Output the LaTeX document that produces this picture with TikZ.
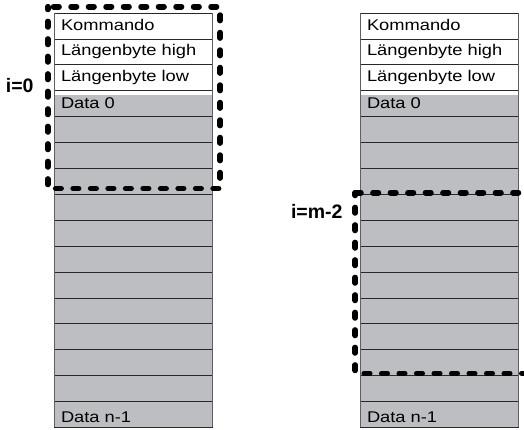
\documentclass[tikz,border=0pt]{standalone}
\usepackage{fontspec}
\setmainfont[FakeStretch=1.18]{Liberation Sans}
\newfontfamily\lblfont{Liberation Sans}
\definecolor{cellgray}{RGB}{189,190,193}
\definecolor{rowline}{RGB}{40,40,40}
\definecolor{sideline}{RGB}{95,95,98}
\begin{document}
\begin{tikzpicture}[x=1pt,y=-1pt,
  cell/.style={draw=rowline, line width=0.8pt, minimum width=158.5pt,
    minimum height=25.9pt, inner sep=0pt, outer sep=0pt},
  celltext/.style={anchor=base west, inner sep=0pt, outer sep=0pt,
    font=\fontsize{15.5}{18}\selectfont, text=black},
  idxlabel/.style={anchor=base east, inner sep=0pt, outer sep=0pt,
    font=\fontsize{19.5}{22}\lblfont\bfseries},
  selbox/.style={line width=5.6pt, line cap=round, line join=round,
    dash pattern=on 5.5pt off 12pt, dash phase=2.75pt}]
\useasboundingbox (0,0) rectangle (524,429);

% two memory columns of 16 byte cells each
\foreach \c/\x in {L/54, R/360} {
  \fill[cellgray] (\x,95) rectangle (\x+158.5,427.2);
  \foreach \r in {0,...,15} {
    \node[cell] (\c\r) at (\x+79.25, 13+25.9*\r+12.95) {};
  }
  \draw[sideline, line width=0.9pt] (\c0.north west) -- (\c15.south west);
  \draw[sideline, line width=0.9pt] (\c0.north east) -- (\c15.south east);
  \node[celltext] (\c t0) at ([shift={(7,17)}]\c0.north west) {Kommando};
  \node[celltext] (\c t1) at ([shift={(7,17)}]\c1.north west) {Längenbyte high};
  \node[celltext] (\c t2) at ([shift={(7,17)}]\c2.north west) {Längenbyte low};
  \node[celltext] (\c t3) at ([shift={(7,17.5)}]\c3.north west) {Data 0};
  \node[celltext] (\c t15) at ([shift={(7,20.5)}]\c15.north west) {Data n-1};
}

% selection windows
\draw[selbox] ([shift={(-6.3,-6.3)}]L0.north west) rectangle ([shift={(7.7,-5.8)}]L6.south east);
\draw[selbox] ([shift={(-4.8,-1.6)}]R7.north west) rectangle ([shift={(25,-2.2)}]R13.south east);

% window indices
\node[idxlabel] (lab0) at (33.5,92.3) {i=0};
\node[idxlabel] (labm) at (342.5,218.5) {i=m-2};
\end{tikzpicture}
\end{document}
